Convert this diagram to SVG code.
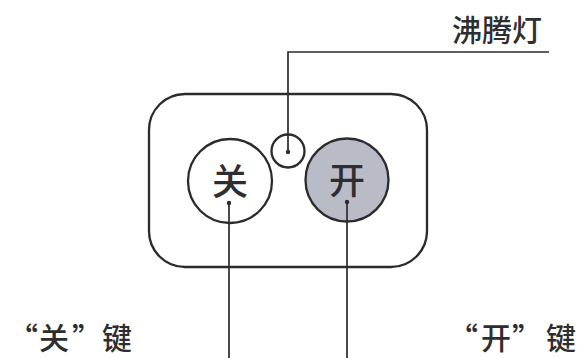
<svg xmlns="http://www.w3.org/2000/svg" width="582" height="358" viewBox="0 0 582 358">
<style>
.lbl{font-family:"Noto Sans CJK SC","Noto Sans",sans-serif;fill:#2e2e30;font-size:30px;font-weight:500}
.key{font-family:"Noto Sans CJK SC","Noto Sans",sans-serif;fill:#2e2e30;font-size:36px;font-weight:500;text-anchor:middle}
.ln{stroke:#2b2b2d;stroke-width:1.7;fill:none}
.sh{stroke:#2b2b2d;stroke-width:2.3}
.dot{fill:#2b2b2d}
</style>
<rect width="582" height="358" fill="#ffffff"/>
<g id="panel"><rect class="sh" x="149" y="94" width="278" height="173" rx="36" fill="none"/></g>
<g id="off-key"><circle class="sh" cx="230" cy="181" r="42" fill="#ffffff"/><text class="key" x="230" y="195">关</text></g>
<g id="on-key"><circle class="sh" cx="347" cy="180" r="41.5" fill="#b9bcc6"/><text class="key" x="347" y="194">开</text></g>
<g id="lamp"><circle class="sh" cx="288" cy="151" r="16.5" fill="#ffffff"/></g>
<g id="connectors">
<path class="ln" d="M288 152 V52 H549"/>
<path class="ln" d="M229 203 V358"/>
<path class="ln" d="M347 202 V358"/>
<circle class="dot" cx="288" cy="152" r="2.2"/>
<circle class="dot" cx="229" cy="203" r="2.2"/>
<circle class="dot" cx="347" cy="202" r="2.2"/>
</g>
<g id="labels">
<text class="lbl" x="452" y="41">沸腾灯</text>
<text class="lbl" y="349"><tspan x="8">“</tspan><tspan x="39">关</tspan><tspan x="72">”</tspan><tspan x="102">键</tspan></text>
<text class="lbl" y="349"><tspan x="448">“</tspan><tspan x="481">开</tspan><tspan x="512">”</tspan><tspan x="546">键</tspan></text>
</g>
</svg>
